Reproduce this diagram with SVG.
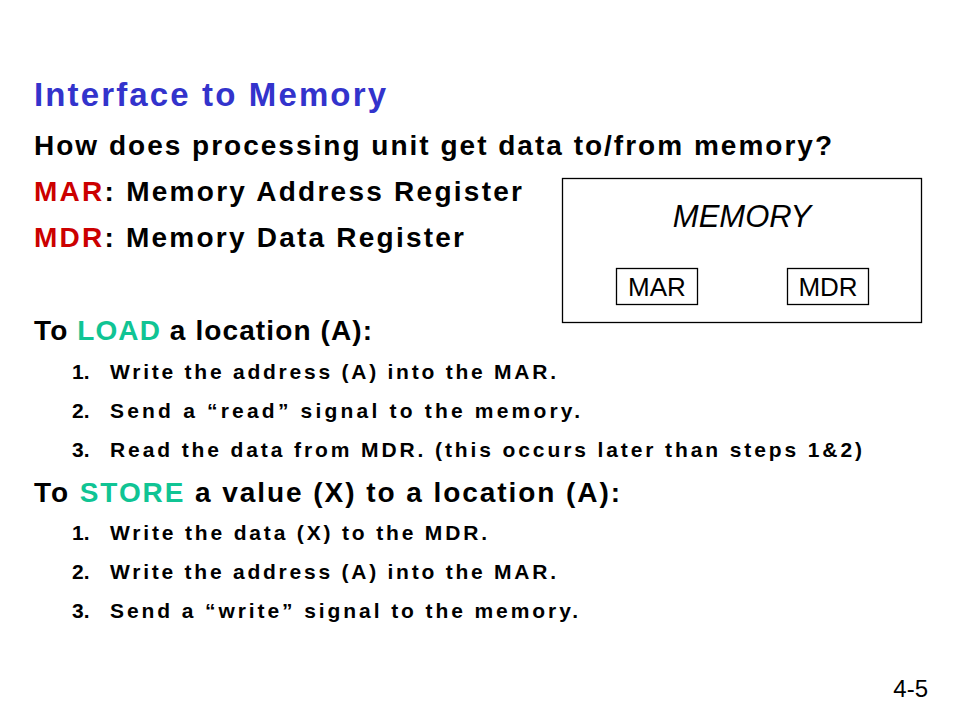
<svg xmlns="http://www.w3.org/2000/svg" width="960" height="720" viewBox="0 0 960 720">
<style>
text{font-family:"Liberation Sans",Arial,sans-serif}
.b{font-weight:bold;fill:#000}
.h{font-size:28px}
.s{font-size:21px}
.red{fill:#CC0000}
.grn{fill:#10C494}
.box{fill:none;stroke:#000;stroke-width:1.3}
.m{font-size:26px;fill:#000}
</style>
<rect width="960" height="720" fill="#fff"/>
<text x="34" y="106" font-size="33" font-weight="bold" fill="#3333CC" textLength="352" lengthAdjust="spacing">Interface to Memory</text>
<text class="b h" x="34" y="155" textLength="798" lengthAdjust="spacing">How does processing unit get data to/from memory?</text>
<text class="b h" x="34" y="201" textLength="488" lengthAdjust="spacing"><tspan class="red">MAR</tspan>: Memory Address Register</text>
<text class="b h" x="34" y="247" textLength="430" lengthAdjust="spacing"><tspan class="red">MDR</tspan>: Memory Data Register</text>
<text class="b h" x="34" y="340" textLength="338" lengthAdjust="spacing">To <tspan class="grn">LOAD</tspan> a location (A):</text>
<text class="b s" x="72" y="379">1.</text><text class="b s" x="110" y="379" textLength="446" lengthAdjust="spacing">Write the address (A) into the MAR.</text>
<text class="b s" x="72" y="418">2.</text><text class="b s" x="110" y="418" textLength="470" lengthAdjust="spacing">Send a “read” signal to the memory.</text>
<text class="b s" x="72" y="457">3.</text><text class="b s" x="110" y="457" textLength="752" lengthAdjust="spacing">Read the data from MDR.  (this occurs later than steps 1&amp;2)</text>
<text class="b h" x="34" y="502" textLength="586" lengthAdjust="spacing">To <tspan class="grn">STORE</tspan> a value (X) to a location (A):</text>
<text class="b s" x="72" y="540">1.</text><text class="b s" x="110" y="540" textLength="377" lengthAdjust="spacing">Write the data (X) to the MDR.</text>
<text class="b s" x="72" y="579">2.</text><text class="b s" x="110" y="579" textLength="446" lengthAdjust="spacing">Write the address (A) into the MAR.</text>
<text class="b s" x="72" y="618">3.</text><text class="b s" x="110" y="618" textLength="468" lengthAdjust="spacing">Send a “write” signal to the memory.</text>
<g id="memory">
<rect class="box" x="562.5" y="178.5" width="359" height="144"/>
<text x="742" y="227" font-size="31" font-style="italic" text-anchor="middle" fill="#000">MEMORY</text>
</g>
<g id="mar">
<rect class="box" x="616.5" y="268.5" width="81" height="36"/>
<text class="m" x="657" y="296" text-anchor="middle">MAR</text>
</g>
<g id="mdr">
<rect class="box" x="787.5" y="268.5" width="81" height="36"/>
<text class="m" x="828" y="296" text-anchor="middle">MDR</text>
</g>
<g id="connectors"/>
<text x="928" y="697" font-size="24" text-anchor="end" fill="#000">4-5</text>
</svg>
